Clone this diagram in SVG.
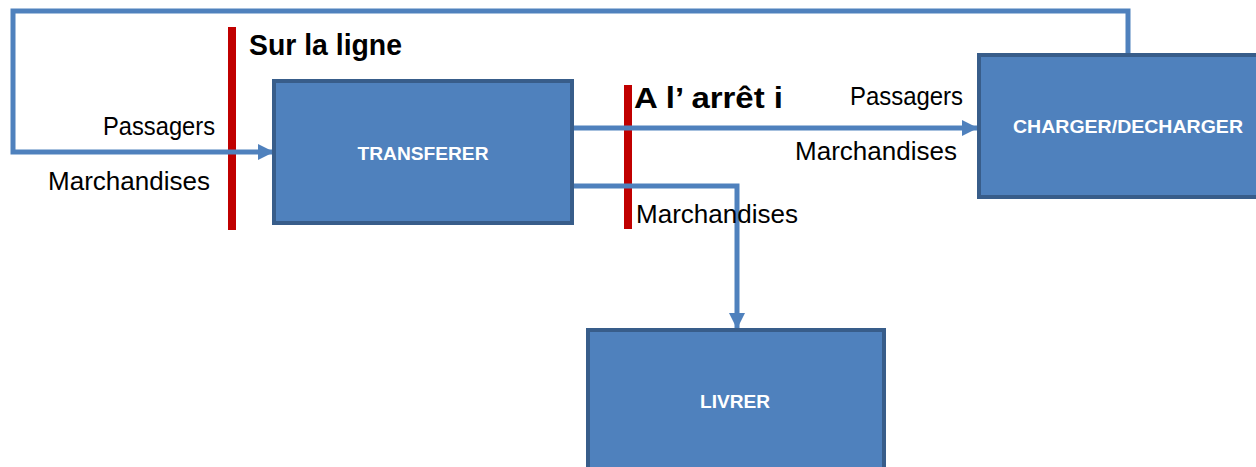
<svg xmlns="http://www.w3.org/2000/svg" width="1256" height="467" viewBox="0 0 1256 467">
  <style>
    .box { fill: #4f81bd; stroke: #385d8a; stroke-width: 4; }
    .flow { fill: none; stroke: #4f81bd; stroke-width: 5; }
    .bar { stroke: #c00000; stroke-width: 8; }
    .lbl { font-family: "Liberation Sans", Arial, sans-serif; font-size: 25px; fill: #000; }
    .head { font-family: "Liberation Sans", Arial, sans-serif; font-size: 29px; font-weight: bold; fill: #000; }
    .name { font-family: "Liberation Sans", Arial, sans-serif; font-size: 19px; font-weight: bold; fill: #fff; text-anchor: middle; }
  </style>
  <defs>
    <marker id="arrow" viewBox="0 0 10 10" refX="10" refY="5" markerWidth="3.2" markerHeight="3.2" orient="auto" markerUnits="strokeWidth">
      <path d="M0,0 L10,5 L0,10 Z" fill="#4f81bd"/>
    </marker>
  </defs>

  <rect width="1256" height="467" fill="#fff"/>

  <!-- boundary bars -->
  <g id="bars">
    <line class="bar" x1="232" y1="27" x2="232" y2="230"/>
    <line class="bar" x1="628" y1="85" x2="628" y2="229"/>
  </g>

  <!-- connectors -->
  <g id="connectors">
    <path class="flow" d="M1128,53 V11 H13 V152 H274" marker-end="url(#arrow)"/>
    <path class="flow" d="M572,128 H978" marker-end="url(#arrow)"/>
    <path class="flow" d="M572,186 H737 V329" marker-end="url(#arrow)"/>
  </g>

  <!-- nodes -->
  <g id="transferer">
    <rect class="box" x="274" y="81" width="298" height="142"/>
    <text class="name" x="423" y="160" textLength="131" lengthAdjust="spacingAndGlyphs">TRANSFERER</text>
  </g>
  <g id="charger-decharger">
    <rect class="box" x="979" y="55" width="290" height="142"/>
    <text class="name" x="1128" y="133" textLength="230" lengthAdjust="spacingAndGlyphs">CHARGER/DECHARGER</text>
  </g>
  <g id="livrer">
    <rect class="box" x="588" y="330" width="296" height="150"/>
    <text class="name" x="735" y="408" textLength="70" lengthAdjust="spacingAndGlyphs">LIVRER</text>
  </g>

  <!-- labels -->
  <g id="labels">
    <text class="head" x="249" y="55" textLength="153" lengthAdjust="spacingAndGlyphs">Sur la ligne</text>
    <text class="head" x="634" y="108" textLength="149" lengthAdjust="spacingAndGlyphs">A l’ arrêt i</text>
    <text class="lbl" x="103" y="135" textLength="112" lengthAdjust="spacingAndGlyphs">Passagers</text>
    <text class="lbl" x="48" y="190" textLength="162" lengthAdjust="spacingAndGlyphs">Marchandises</text>
    <text class="lbl" x="850" y="105" textLength="113" lengthAdjust="spacingAndGlyphs">Passagers</text>
    <text class="lbl" x="795" y="160" textLength="162" lengthAdjust="spacingAndGlyphs">Marchandises</text>
    <text class="lbl" x="636" y="223" textLength="162" lengthAdjust="spacingAndGlyphs">Marchandises</text>
  </g>
</svg>
